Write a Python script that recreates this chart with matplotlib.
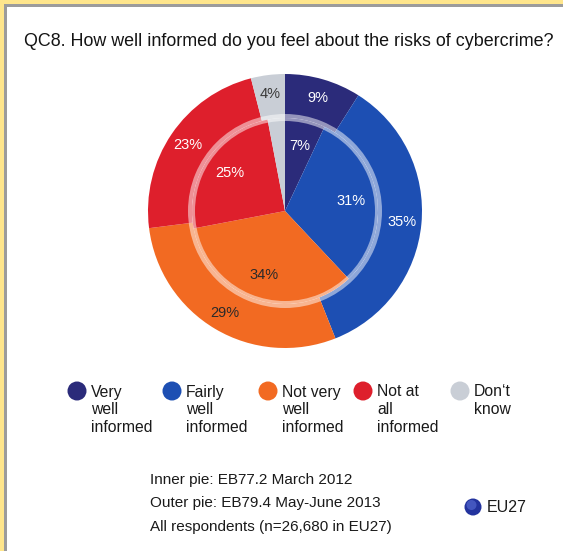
import matplotlib.pyplot as plt
from matplotlib.patches import Circle, Wedge, Rectangle

plt.rcParams['font.family'] = ['Liberation Sans', 'DejaVu Sans']

W, H = 563, 551

title = "QC8. How well informed do you feel about the risks of cybercrime?"
categories = [["Very", "well", "informed"],
              ["Fairly", "well", "informed"],
              ["Not very", "well", "informed"],
              ["Not at", "all", "informed"],
              ["Don\u2018t", "know"]]
inner_2012 = [7, 31, 34, 25, 3]     # EB77.2 March 2012
outer_2013 = [9, 35, 29, 23, 4]     # EB79.4 May-June 2013
colors = ["#2b2b7a", "#1d4fb3", "#f26a22", "#de1f2c", "#c9ced6"]
outer_text = ["white", "white", "#2a2a2a", "white", "#3a3a3a"]
inner_text = ["white", "white", "#2a2a2a", "white", "#3a3a3a"]
footer = ["Inner pie: EB77.2 March 2012",
          "Outer pie: EB79.4 May-June 2013",
          "All respondents (n=26,680 in EU27)"]


def Y(y):
    # pixel rows counted from the top
    return H - y


fig = plt.figure(figsize=(W / 100, H / 100), dpi=100)
ax = fig.add_axes([0, 0, 1, 1])

cx, cy = 285, Y(211)
r_out, r_in = 137, 93

# outer ring (2013)
_, _, out_txt = ax.pie(outer_2013, radius=r_out, center=(cx, cy), startangle=90,
                       counterclock=False, colors=colors,
                       wedgeprops=dict(width=r_out - r_in, linewidth=0),
                       autopct=lambda p: f"{p:.0f}%", pctdistance=118 / r_out)
# inner pie (2012)
_, _, in_txt = ax.pie(inner_2012, radius=r_in, center=(cx, cy), startangle=90,
                      counterclock=False, colors=colors,
                      wedgeprops=dict(linewidth=0),
                      autopct=lambda p: "" if p < 3.5 else f"{p:.0f}%",
                      pctdistance=67 / r_in)
for t, c in zip(out_txt, outer_text):
    t.set_color(c)
    t.set_fontsize(10.5)
for t, c in zip(in_txt, inner_text):
    t.set_color(c)
    t.set_fontsize(10.5)

# translucent separator ring between the two years
ax.add_patch(Wedge((cx, cy), 97, 0, 360, width=7, facecolor="white",
                   alpha=0.5, linewidth=0))

# page frame
ax.add_patch(Rectangle((0, Y(4)), W, 4, color="#ffe68c", linewidth=0))
ax.add_patch(Rectangle((0, 0), 4, H, color="#ffe68c", linewidth=0))
ax.add_patch(Rectangle((4, Y(6.5)), W, 2.5, color="#9c9c9c", linewidth=0))
ax.add_patch(Rectangle((4, 0), 2.5, Y(4), color="#9c9c9c", linewidth=0))

ax.text(24, Y(41), title, fontsize=12.9, color="#141414", va="center", ha="left")

# legend
leg_x = [77, 172, 268, 363, 460]
for x, lines, col in zip(leg_x, categories, colors):
    ax.add_patch(Circle((x, Y(391)), 9.5, color=col, linewidth=0))
    for i, s in enumerate(lines):
        ax.text(x + 14, Y(392 + 17.5 * i), s, fontsize=11.3, color="#1a1a1a",
                va="center", ha="left")

# notes
for i, s in enumerate(footer):
    ax.text(150, Y(480 + 23.5 * i), s, fontsize=11, color="#1a1a1a",
            va="center", ha="left")

ax.add_patch(Circle((473, Y(507)), 8.5, color="#23339e", linewidth=0))
ax.add_patch(Circle((471.5, Y(505)), 5, color="#5a6fd6", alpha=0.6, linewidth=0))
ax.text(487, Y(508), "EU27", fontsize=11.5, color="#1a1a1a", va="center", ha="left")

ax.set_xlim(0, W)
ax.set_ylim(0, H)
ax.set_aspect("equal")
ax.axis("off")

fig.savefig("out.png", dpi=100, facecolor="white")
